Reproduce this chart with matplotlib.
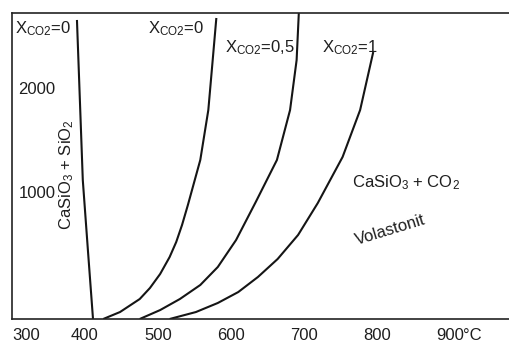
import matplotlib
matplotlib.use("Agg")
import matplotlib.pyplot as plt

plt.rcParams['font.family'] = ['Liberation Sans', 'DejaVu Sans']
plt.rcParams['mathtext.fontset'] = 'custom'
plt.rcParams['mathtext.rm'] = 'Liberation Sans'
plt.rcParams['mathtext.it'] = 'Liberation Sans:italic'
plt.rcParams['mathtext.bf'] = 'Liberation Sans:bold'

# Temperature (°C) / pressure values
T1 = [389, 393, 397, 404, 411]
P1 = [2654, 1885, 1115, 442, -221]

T2 = [580, 575, 569, 558, 541, 533, 525, 516, 503, 489, 475, 448, 425]
P2 = [2673, 2269, 1788, 1308, 875, 683, 519, 375, 212, 77, -29, -154, -221]

T3 = [693, 690, 681, 663, 634, 607, 582, 558, 530, 503, 475]
P3 = [2721, 2269, 1788, 1308, 904, 538, 279, 106, -29, -135, -221]

T4 = [795, 777, 753, 719, 692, 664, 637, 610, 582, 552, 516]
P4 = [2346, 1788, 1337, 894, 587, 356, 183, 38, -67, -154, -221]

xticks = [300, 400, 500, 600, 700, 800, 900]
xticklabels = ['300', '400', '500', '600', '700', '800', '900']
yticks = [1000, 2000]
yticklabels = ['1000', '2000']

curve_labels = [r'X$_{\mathrm{CO2}}$=0', r'X$_{\mathrm{CO2}}$=0',
                r'X$_{\mathrm{CO2}}$=0,5', r'X$_{\mathrm{CO2}}$=1']

ink = '#151515'
txt = '#1e1e1e'

fig = plt.figure(figsize=(5.09, 3.45), dpi=100)
ax = fig.add_axes([12/509, 26/345, 497/509, 306/345])

for T, P in [(T1, P1), (T2, P2), (T3, P3), (T4, P4)]:
    ax.plot(T, P, color=ink, lw=1.5, solid_capstyle='butt',
            solid_joinstyle='round')

ax.set_xlim(300, 981)
ax.set_ylim(-221, 2721)

for s in ['left', 'top', 'bottom']:
    ax.spines[s].set_linewidth(1.2)
    ax.spines[s].set_color('#222222')
ax.spines['right'].set_visible(False)

ax.set_xticks(xticks)
ax.set_xticklabels(xticklabels)
ax.set_yticks(yticks)
ax.set_yticklabels(yticklabels)
ax.tick_params(axis='x', length=0, pad=6.5, labelsize=12, labelcolor=txt)
ax.tick_params(axis='y', length=0, pad=-4.5, labelsize=12, labelcolor=txt)
for lbl in ax.get_yticklabels():
    lbl.set_horizontalalignment('left')
ax.get_xticklabels()[0].set_horizontalalignment('left')

ax.annotate('°C', xy=(900, 0), xycoords=('data', 'axes fraction'),
            xytext=(13, -9), textcoords='offset pixels',
            ha='left', va='top', fontsize=12, color=txt)

label_pos = [(304, 2529), (486, 2529), (592, 2346), (725, 2346)]
for (x, y), s in zip(label_pos, curve_labels):
    ax.text(x, y, s, ha='left', va='baseline', fontsize=12, color=txt)

ax.text(766, 1048, r'CaSiO$_{\mathrm{3}}$ + CO$_{\mathrm{2}}$', ha='left',
        va='baseline', fontsize=12, color=txt)
ax.text(818, 635, 'Volastonit', ha='center', va='center', rotation=17,
        rotation_mode='anchor', fontsize=12, color=txt)
ax.text(375, 1163, r'CaSiO$_{\mathrm{3}}$ + SiO$_{\mathrm{2}}$', ha='center',
        va='center', rotation=90, fontsize=12, color=txt)

fig.savefig('out.png', dpi=100)
